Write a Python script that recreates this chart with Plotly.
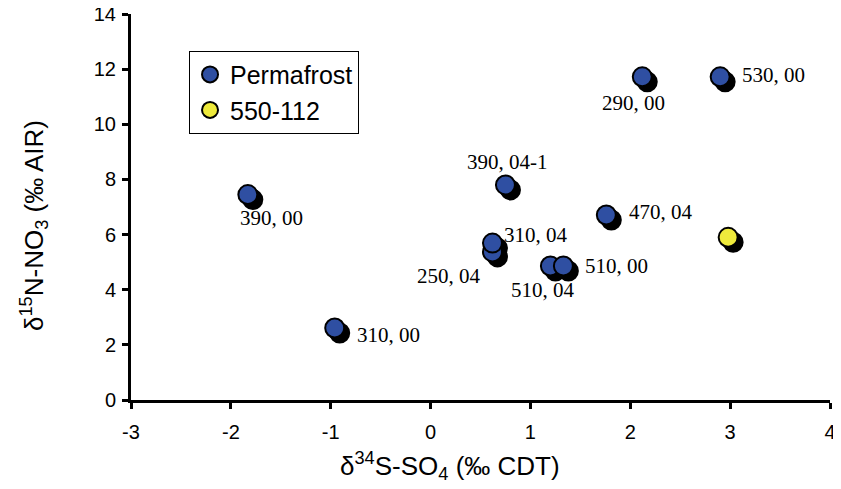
import plotly.graph_objects as go

# Data
perm_labels = ["390, 00", "310, 00", "250, 04", "310, 04", "390, 04-1",
               "510, 04", "510, 00", "470, 04", "290, 00", "530, 00"]
perm_s34 = [-1.83, -0.96, 0.62, 0.62, 0.75, 1.20, 1.33, 1.76, 2.12, 2.90]
perm_n15 = [7.45, 2.61, 5.37, 5.69, 7.80, 4.86, 4.86, 6.71, 11.72, 11.72]

site_s34 = [2.98]
site_n15 = [5.90]

x_ticks = [-3, -2, -1, 0, 1, 2, 3, 4]
y_ticks = [0, 2, 4, 6, 8, 10, 12, 14]

x_title = "δ<sup>34</sup>S-SO<sub>4</sub> (‰ CDT)"
y_title = "δ<sup>15</sup>N-NO<sub>3</sub> (‰ AIR)"

# Label placement (pixel offsets: xanchor, xshift, yshift)
label_pos = [("center", 24, -23), ("left", 20, -7), ("right", -9, -24),
             ("left", 10, 8), ("center", 2, 23), ("center", -7, -24),
             ("left", 20, 0), ("left", 21, 3), ("center", -9, -26),
             ("left", 20, 2)]

# shadow offset in data units (style)
SDX, SDY = 0.05, -0.18

BLUE = "#2F4FA2"
YELLOW = "#EEEA3C"
MS = 19
SANS = "Liberation Sans"

# page body has an 8px default margin: compensate
PAD = 8
W, H = 841 - PAD, 489 - PAD

fig = go.Figure()

# shadows
fig.add_trace(go.Scatter(
    x=[v + SDX for v in perm_s34 + site_s34],
    y=[v + SDY for v in perm_n15 + site_n15],
    mode="markers", showlegend=False, hoverinfo="skip",
    marker=dict(size=MS, color="black", line=dict(color="black", width=2)),
    cliponaxis=False))

fig.add_trace(go.Scatter(
    x=perm_s34, y=perm_n15, mode="markers", name="Permafrost",
    marker=dict(size=MS, color=BLUE, line=dict(color="black", width=2)),
    cliponaxis=False))

fig.add_trace(go.Scatter(
    x=site_s34, y=site_n15, mode="markers", name="550-112",
    marker=dict(size=MS, color=YELLOW, line=dict(color="black", width=2)),
    cliponaxis=False))

for lab, xv, yv, (xa, xs, ys) in zip(perm_labels, perm_s34, perm_n15, label_pos):
    fig.add_annotation(x=xv, y=yv, text=lab, showarrow=False,
                       xanchor=xa, yanchor="middle", xshift=xs, yshift=ys,
                       font=dict(family="Liberation Serif", size=21, color="black"))

# axis titles
fig.add_annotation(xref="paper", yref="paper", x=0.456, y=-0.171,
                   xanchor="center", yanchor="middle", showarrow=False,
                   text=x_title, font=dict(family=SANS, size=26, color="black"))
fig.add_annotation(xref="paper", yref="paper", x=-0.139, y=0.453,
                   xanchor="center", yanchor="middle", showarrow=False,
                   textangle=-90,
                   text=y_title, font=dict(family=SANS, size=26, color="black"))

axis_common = dict(showline=True, linewidth=3, linecolor="black",
                   ticks="outside", ticklen=6, tickwidth=3, tickcolor="black",
                   showgrid=False, zeroline=False, automargin=False,
                   ticklabeloverflow="allow",
                   tickfont=dict(family=SANS, size=20, color="black"))

fig.update_xaxes(range=[-3, 4], tickvals=x_ticks,
                 ticktext=[str(v) for v in x_ticks],
                 ticklabelstandoff=6,
                 **axis_common)
fig.update_yaxes(range=[0, 14], tickvals=y_ticks,
                 ticktext=[str(v) for v in y_ticks],
                 ticklabelstandoff=2,
                 **axis_common)

fig.update_layout(
    width=W, height=H,
    margin=dict(l=131 - PAD, r=11, t=14 - PAD, b=89),
    paper_bgcolor="white", plot_bgcolor="white",
    showlegend=True,
    legend=dict(x=0.083, y=0.905, xanchor="left", yanchor="top",
                bordercolor="black", borderwidth=1, bgcolor="white",
                font=dict(family=SANS, size=25, color="black"),
                itemwidth=30, tracegroupgap=0),
)

fig.write_html("out.html")
